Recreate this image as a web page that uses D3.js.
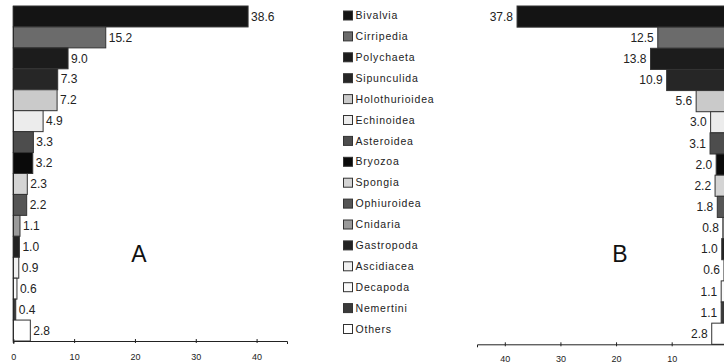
<!DOCTYPE html>
<html>
<head>
<meta charset="utf-8">
<script src="https://cdn.jsdelivr.net/npm/d3@7"></script>
<style>
  body { margin: 0; background: #fff; }
  svg { display: block; font-family: "Liberation Sans", Arial, sans-serif; }
</style>
</head>
<body>
<div id="chart"></div>
<script>
var categories = ["Bivalvia", "Cirripedia", "Polychaeta", "Sipunculida", "Holothurioidea", "Echinoidea",
  "Asteroidea", "Bryozoa", "Spongia", "Ophiuroidea", "Cnidaria", "Gastropoda", "Ascidiacea",
  "Decapoda", "Nemertini", "Others"];
var valuesA = [38.6, 15.2, 9.0, 7.3, 7.2, 4.9, 3.3, 3.2, 2.3, 2.2, 1.1, 1.0, 0.9, 0.6, 0.4, 2.8];
var valuesB = [37.8, 12.5, 13.8, 10.9, 5.6, 3.0, 3.1, 2.0, 2.2, 1.8, 0.8, 1.0, 0.6, 1.1, 1.1, 2.8];
var fills = ["#141414", "#6b6b6b", "#1c1c1c", "#262626", "#cacaca", "#ececec", "#4d4d4d", "#0a0a0a",
  "#d4d4d4", "#555555", "#9a9a9a", "#222222", "#f0f0f0", "#fafafa", "#3a3a3a", "#ffffff"];
var ticksA = [0, 10, 20, 30, 40];
var ticksB = [10, 20, 30, 40];

var width = 724, height = 363;

var svg = d3.select('#chart').append('svg')
  .attr('width', width)
  .attr('height', height);

var color = d3.scaleOrdinal().domain(categories).range(fills);

function panel(values, ticks, xRange, yRange, side, letter, letterX, tickY) {
  var x = d3.scaleLinear().domain([0, 45]).range(xRange);
  var y = d3.scaleBand().domain(categories).range(yRange).padding(0);
  var g = svg.append('g');
  var rows = categories.map(function(c, i) { return { name: c, value: values[i] }; });

  g.selectAll('rect.bar')
    .data(rows)
    .enter().append('rect')
    .attr('class', 'bar')
    .attr('x', function(d) { return Math.min(x(0), x(d.value)); })
    .attr('y', function(d) { return y(d.name); })
    .attr('width', function(d) { return Math.abs(x(d.value) - x(0)); })
    .attr('height', y.bandwidth())
    .attr('fill', function(d) { return color(d.name); })
    .attr('stroke', '#333')
    .attr('stroke-width', 1);

  g.selectAll('text.val')
    .data(rows)
    .enter().append('text')
    .attr('class', 'val')
    .attr('x', function(d) { return side === 'right' ? x(d.value) + 3 : x(d.value) - 4; })
    .attr('y', function(d) { return y(d.name) + y.bandwidth() / 2; })
    .attr('dy', '0.35em')
    .attr('text-anchor', side === 'right' ? 'start' : 'end')
    .attr('font-size', 12)
    .attr('fill', '#222')
    .text(function(d) { return d.value.toFixed(1); });

  // value axis
  var axis = g.append('g')
    .attr('transform', 'translate(0,' + yRange[1] + ')')
    .call(d3.axisBottom(x).tickValues(ticks).tickSizeOuter(0).tickSize(3).tickFormat(d3.format('d')));
  axis.select('.domain').attr('stroke', '#222');
  axis.selectAll('.tick line').attr('y1', -2).attr('y2', 2).attr('stroke', '#222');
  axis.selectAll('.tick text')
    .attr('y', tickY)
    .attr('font-size', 9)
    .attr('font-family', '"Liberation Sans", Arial, sans-serif')
    .attr('fill', '#222');

  // category axis line at zero
  g.append('line')
    .attr('x1', x(0)).attr('x2', x(0))
    .attr('y1', yRange[0]).attr('y2', yRange[1] + 2)
    .attr('stroke', '#222');

  g.append('text')
    .attr('x', letterX)
    .attr('y', 262)
    .attr('text-anchor', 'middle')
    .attr('font-size', 23)
    .attr('fill', '#111')
    .text(letter);
}

panel(valuesA, ticksA, [13.3, 287], [6, 341], 'right', 'A', 139, 13);
panel(valuesB, ticksB, [727.3, 477], [6, 344.3], 'left', 'B', 620, 11.5);

// legend
var legend = svg.selectAll('.legend')
  .data(categories)
  .enter().append('g')
  .attr('class', 'legend')
  .attr('transform', function(d, i) { return 'translate(343.5,' + (15.5 + i * 20.9) + ')'; });

legend.append('rect')
  .attr('x', 0)
  .attr('y', -4.5)
  .attr('width', 9)
  .attr('height', 9)
  .attr('fill', function(d) { return color(d); })
  .attr('stroke', '#333');

legend.append('text')
  .attr('x', 12)
  .attr('y', 0)
  .attr('dy', '0.35em')
  .attr('font-size', 10.5)
  .attr('letter-spacing', 0.8)
  .attr('fill', '#222')
  .text(function(d) { return d; });
</script>
</body>
</html>
